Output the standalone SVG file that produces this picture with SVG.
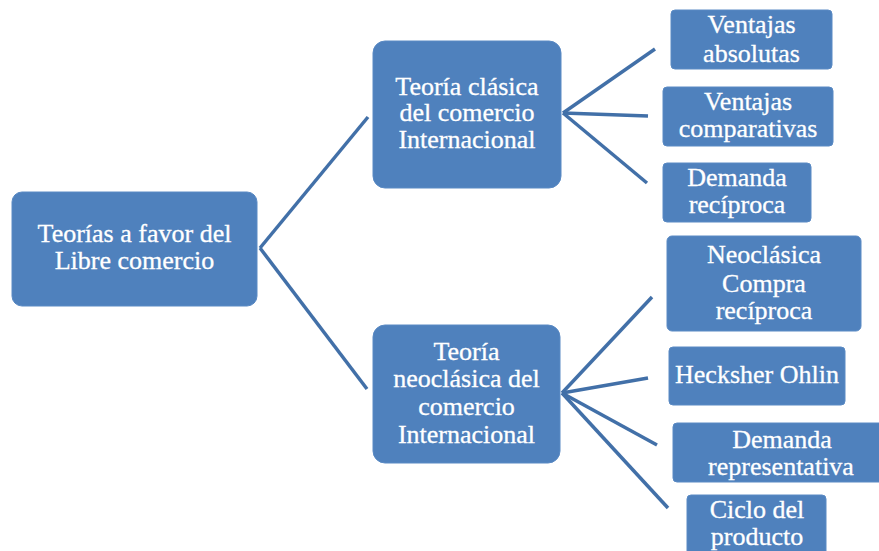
<svg xmlns="http://www.w3.org/2000/svg" width="879" height="551" viewBox="0 0 879 551">
<style>
.box{fill:#4f81bd;stroke:#5a8ac4;stroke-width:1}
.t{font-family:'Liberation Serif','Times New Roman',serif;font-size:26px;fill:#ffffff;text-anchor:middle;stroke:#ffffff;stroke-width:0.3}
.c{stroke:#4270a8;stroke-width:3.5;fill:none;stroke-linecap:butt}
</style>
<rect width="879" height="551" fill="#ffffff"/>
<g id="connectors">
<line class="c" x1="260" y1="248" x2="368" y2="117"/>
<line class="c" x1="260" y1="248" x2="367" y2="389"/>
<line class="c" x1="563" y1="113" x2="655" y2="49"/>
<line class="c" x1="563" y1="113" x2="648" y2="116"/>
<line class="c" x1="563" y1="113" x2="647" y2="183"/>
<line class="c" x1="562" y1="393" x2="652" y2="297"/>
<line class="c" x1="562" y1="393" x2="648" y2="378"/>
<line class="c" x1="562" y1="393" x2="657" y2="445"/>
<line class="c" x1="562" y1="393" x2="668" y2="508"/>
</g>
<g id="root">
<rect class="box" x="12" y="192" width="245" height="114" rx="10"/>
<text class="t" x="134.5" y="242">Teorías a favor del</text>
<text class="t" x="134.5" y="268.5">Libre comercio</text>
</g>
<g id="clasica">
<rect class="box" x="373" y="41" width="188" height="147" rx="12"/>
<text class="t" x="467" y="94.5">Teoría clásica</text>
<text class="t" x="467" y="121">del comercio</text>
<text class="t" x="467" y="148">Internacional</text>
</g>
<g id="neoclasica">
<rect class="box" x="373" y="325" width="187" height="138" rx="12"/>
<text class="t" x="466.5" y="360">Teoría</text>
<text class="t" x="466.5" y="387">neoclásica del</text>
<text class="t" x="466.5" y="415">comercio</text>
<text class="t" x="466.5" y="443">Internacional</text>
</g>
<g id="ventajas-absolutas">
<rect class="box" x="671" y="10" width="161" height="59" rx="4"/>
<text class="t" x="751.5" y="33">Ventajas</text>
<text class="t" x="751.5" y="62">absolutas</text>
</g>
<g id="ventajas-comparativas">
<rect class="box" x="663" y="87" width="170" height="59" rx="4"/>
<text class="t" x="748" y="110">Ventajas</text>
<text class="t" x="748" y="137">comparativas</text>
</g>
<g id="demanda-reciproca">
<rect class="box" x="663" y="163" width="148" height="59" rx="4"/>
<text class="t" x="737" y="186">Demanda</text>
<text class="t" x="737" y="212.5">recíproca</text>
</g>
<g id="neoclasica-compra">
<rect class="box" x="667" y="236" width="194" height="95" rx="5"/>
<text class="t" x="764" y="263">Neoclásica</text>
<text class="t" x="764" y="292">Compra</text>
<text class="t" x="764" y="319">recíproca</text>
</g>
<g id="heckscher-ohlin">
<rect class="box" x="669" y="347" width="176" height="58" rx="4"/>
<text class="t" x="757" y="383">Hecksher Ohlin</text>
</g>
<g id="demanda-representativa">
<rect class="box" x="673" y="423" width="220" height="59" rx="4"/>
<text class="t" x="782" y="448">Demanda</text>
<text class="t" x="781" y="475">representativa</text>
</g>
<g id="ciclo-producto">
<rect class="box" x="687" y="495" width="139" height="70" rx="4"/>
<text class="t" x="757" y="518">Ciclo del</text>
<text class="t" x="757" y="545">producto</text>
</g>
</svg>
